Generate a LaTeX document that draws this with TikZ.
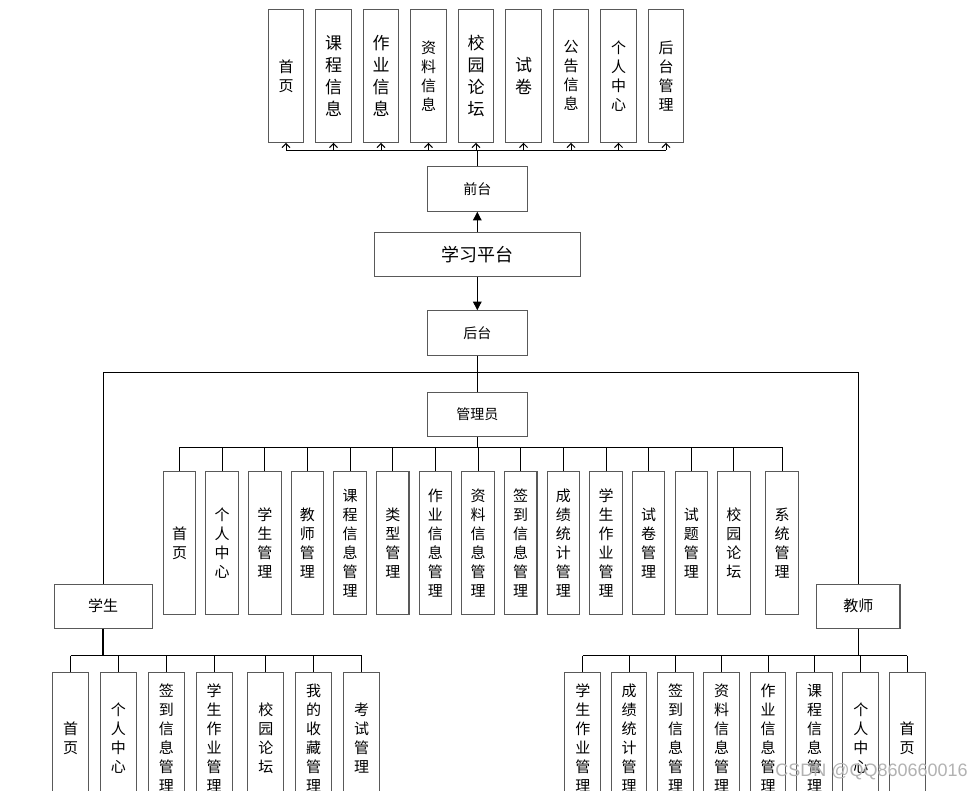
\documentclass[tikz,border=0pt]{standalone}
\usepackage{fontspec}
\newfontfamily\cjk{Noto Sans CJK SC}
\newfontfamily\wmfont{Liberation Sans}
\usetikzlibrary{arrows.meta}
\begin{document}
\begin{tikzpicture}[x=0.75pt,y=-0.75pt,
  box/.style={draw=black!65, line width=0.8pt, fill=white, inner sep=0pt, align=center, text=black},
  txs/.style={font=\cjk\fontsize{11.25}{14.25}\selectfont},
  txb/.style={font=\cjk\fontsize{12.75}{16.5}\selectfont},
  tbox/.style={box, minimum width=26.6pt, minimum height=99.75pt},
  abox/.style={box, minimum width=24.4pt, minimum height=106.7pt, txs},
  sbox/.style={box, minimum width=26.8pt, minimum height=99pt, txs},
  hbox/.style={box, minimum width=75pt, minimum height=33.4pt, font=\cjk\fontsize{10.5}{12}\selectfont},
  line/.style={draw=black, line width=0.75pt},
  openarrow/.style={line, -{Straight Barb[length=3pt,width=6pt]}},
  fillarrow/.style={line, -{Triangle[length=6.5pt,width=6.5pt]}}
]
\useasboundingbox (0,0) rectangle (972,790);
\clip (0,0) rectangle (972,790);

% central nodes
\node[box, minimum width=154.5pt, minimum height=33.3pt, font=\cjk\fontsize{13.5}{15}\selectfont] (xxpt) at (477.3,254.5) {学习平台};
\node[hbox] (qt) at (477.3,189) {前台};
\node[hbox] (ht) at (477.3,333) {后台};
\node[hbox] (gly) at (477.3,414.5) {管理员};
\node[box, minimum width=73.7pt, minimum height=33.2pt, font=\cjk\fontsize{11.25}{13}\selectfont] (xs) at (103.2,606.2) {学生};
\node[box, minimum width=62.5pt, minimum height=33.2pt, font=\cjk\fontsize{11.25}{13}\selectfont] (js) at (858.3,606.2) {教师};

% top row
\foreach \t/\f [count=\i from 0] in {首\\页/txs, 课\\程\\信\\息/txb, 作\\业\\信\\息/txb, 资\\料\\信\\息/txs, 校\\园\\论\\坛/txb, 试\\卷/txb, 公\\告\\信\\息/txs, 个\\人\\中\\心/txs, 后\\台\\管\\理/txs}
  \node[tbox,\f] (t\i) at ({286+47.5*\i},75.8) {\t};

% admin row
\foreach \t [count=\i from 0] in {首\\页, 个\\人\\中\\心, 学\\生\\管\\理, 教\\师\\管\\理, 课\\程\\信\\息\\管\\理, 类\\型\\管\\理, 作\\业\\信\\息\\管\\理, 资\\料\\信\\息\\管\\理, 签\\到\\信\\息\\管\\理, 成\\绩\\统\\计\\管\\理, 学\\生\\作\\业\\管\\理, 试\\卷\\管\\理, 试\\题\\管\\理, 校\\园\\论\\坛}
  \node[abox] (a\i) at ({179.5+42.65*\i},542.9) {\t};
\node[abox] (a14) at (782,542.9) {系\\统\\管\\理};

% student row
\foreach \t/\x [count=\i from 0] in {首\\页/70.7, 个\\人\\中\\心/118.3, 签\\到\\信\\息\\管\\理/166.3, 学\\生\\作\\业\\管\\理/214.2, 校\\园\\论\\坛/265.8, 我\\的\\收\\藏\\管\\理/313.7, 考\\试\\管\\理/361.5}
  \node[sbox] (s\i) at (\x,738.3) {\t};

% teacher row
\foreach \t/\x [count=\i from 0] in {学\\生\\作\\业\\管\\理/582.8, 成\\绩\\统\\计\\管\\理/629, 签\\到\\信\\息\\管\\理/675.5, 资\\料\\信\\息\\管\\理/721.7, 作\\业\\信\\息\\管\\理/768, 课\\程\\信\\息\\管\\理/814.5, 个\\人\\中\\心/860.8, 首\\页/907.2}
  \node[sbox] (j\i) at (\x,738.3) {\t};

% front bus
\coordinate (fbus) at (477.3,150);
\draw[line] (qt.north) -- (fbus);
\draw[line] (fbus -| t0) -- (fbus -| t8);
\foreach \i in {0,...,8}
  \draw[openarrow] (fbus -| t\i) -- (t\i.south);

% platform arrows
\draw[fillarrow] (xxpt.north) -- (qt.south);
\draw[fillarrow] (xxpt.south) -- (ht.north);

% back branch
\coordinate (hbar) at (477.3,372);
\draw[line] (ht.south) -- (gly.north);
\draw[line] (xs.north) -- (xs.north |- hbar) -- (js.north |- hbar) -- (js.north);

% admin bus
\coordinate (abus) at (477.3,447.3);
\draw[line] (gly.south) -- (abus);
\draw[line] (abus -| a0) -- (abus -| a14);
\foreach \i in {0,...,14}
  \draw[line] (abus -| a\i) -- (a\i.north);

% student bus
\coordinate (sbus) at (103.2,655.7);
\draw[line, line width=1.2pt] (xs.south) -- (sbus);
\draw[line] (sbus -| s0) -- (sbus -| s6);
\foreach \i in {0,...,6}
  \draw[line] (sbus -| s\i) -- (s\i.north);

% teacher bus
\coordinate (jbus) at (858.3,655.7);
\draw[line] (js.south) -- (jbus);
\draw[line] (jbus -| j0) -- (jbus -| j7);
\foreach \i in {0,...,7}
  \draw[line] (jbus -| j\i) -- (j\i.north);

% watermark
\node[font=\wmfont\fontsize{13.5}{15}\selectfont, text=black!30, inner sep=0pt, anchor=east] (wm) at (968,772) {CSDN @QQ860660016};
\end{tikzpicture}
\end{document}
